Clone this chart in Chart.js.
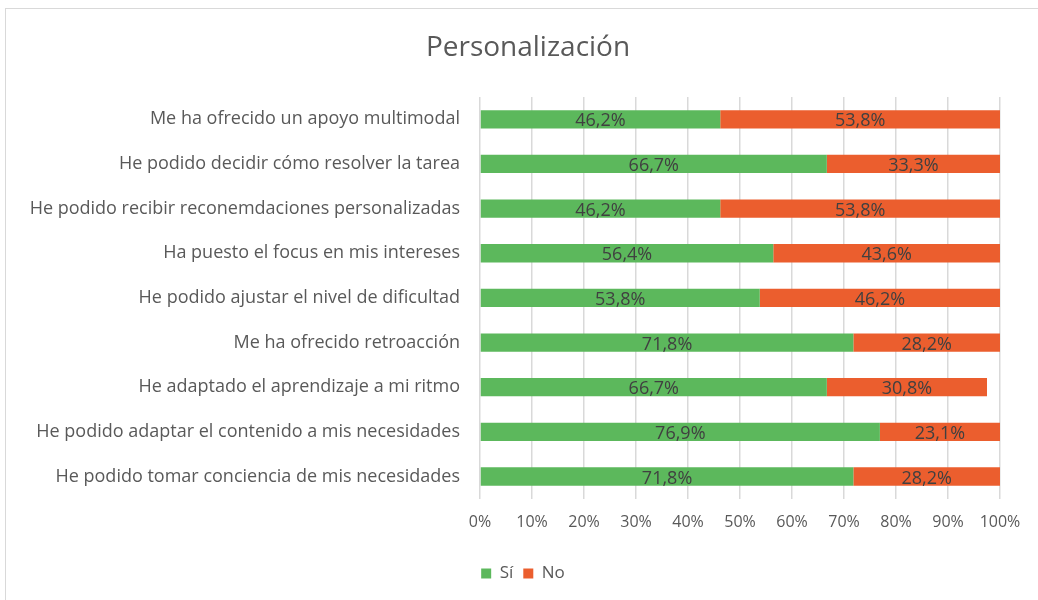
<!DOCTYPE html>
<html lang="es">
<head>
<meta charset="UTF-8">
<title>Personalización</title>
<script src="https://cdn.jsdelivr.net/npm/chart.js"></script>
<style>
  body { margin: 0; background: #fff; }
  .frame { position: absolute; left: 5px; top: 8px; width: 1040px; height: 600px; border: 1px solid #d9d9d9; }
  .wrap { position: absolute; left: 0; top: 0; width: 1038px; height: 600px; }
</style>
</head>
<body>
<div class="frame"></div>
<div class="wrap"><canvas id="chart" width="1038" height="600"></canvas></div>
<script>
const chartTitle = 'Personalización';
const categories = [
  'Me ha ofrecido un apoyo multimodal',
  'He podido decidir cómo resolver la tarea',
  'He podido recibir reconemdaciones personalizadas',
  'Ha puesto el focus en mis intereses',
  'He podido ajustar el nivel de dificultad',
  'Me ha ofrecido retroacción',
  'He adaptado el aprendizaje a mi ritmo',
  'He podido adaptar el contenido a mis necesidades',
  'He podido tomar conciencia de mis necesidades'
];
const siValues = [46.2, 66.7, 46.2, 56.4, 53.8, 71.8, 66.7, 76.9, 71.8];
const noValues = [53.8, 33.3, 53.8, 43.6, 46.2, 28.2, 30.8, 23.1, 28.2];
const xTicks = [0, 10, 20, 30, 40, 50, 60, 70, 80, 90, 100];

const FONT = "'Open Sans', sans-serif";
const fmt = v => v.toFixed(1).replace('.', ',') + '%';

// etiquetas dentro de cada barra + titulo centrado sobre el grafico
const barLabels = {
  id: 'barLabels',
  afterLayout(chart) {
    // la leyenda del original va algo desplazada a la derecha
    chart.legend.left += 23;
    chart.legend.right += 23;
  },
  afterDatasetsDraw(chart) {
    const ctx = chart.ctx;
    ctx.save();
    ctx.font = '18px ' + FONT;
    ctx.fillStyle = '#404040';
    ctx.textAlign = 'center';
    ctx.textBaseline = 'middle';
    chart.data.datasets.forEach((ds, i) => {
      chart.getDatasetMeta(i).data.forEach((bar, j) => {
        const p = bar.getProps(['x', 'y', 'base'], true);
        ctx.fillText(fmt(ds.data[j]), (p.x + p.base) / 2, p.y + 2);
      });
    });
    ctx.font = '28px ' + FONT;
    ctx.fillStyle = '#595959';
    ctx.fillText(chartTitle, 528, 48);
    ctx.restore();
  }
};

new Chart(document.getElementById('chart'), {
  type: 'bar',
  data: {
    labels: categories,
    datasets: [
      { label: 'Sí', data: siValues, backgroundColor: '#5CB85C' },
      { label: 'No', data: noValues, backgroundColor: '#EB5E2E' }
    ]
  },
  options: {
    indexAxis: 'y',
    responsive: false,
    animation: false,
    barPercentage: 0.41,
    categoryPercentage: 1,
    layout: { padding: { left: 0, right: 38, top: 97, bottom: 8 } },
    scales: {
      x: {
        stacked: true,
        min: 0,
        max: 100,
        afterBuildTicks: s => { s.ticks = xTicks.map(v => ({ value: v })); },
        afterFit: s => { s.height += 9; },
        ticks: { callback: v => v + '%', color: '#595959', font: { family: FONT, size: 16 }, padding: 14 },
        grid: { color: '#d9d9d9', lineWidth: 1.5, drawTicks: false },
        border: { display: false }
      },
      y: {
        stacked: true,
        afterFit: s => { s.width = 480; },
        ticks: { color: '#595959', font: { family: FONT, size: 18 }, padding: 20 },
        grid: { display: false, drawTicks: false },
        border: { display: false }
      }
    },
    plugins: {
      title: { display: false },
      legend: {
        position: 'bottom',
        labels: { color: '#595959', font: { family: FONT, size: 17 }, boxWidth: 10, boxHeight: 10, padding: 10 }
      },
      tooltip: { enabled: false }
    }
  },
  plugins: [barLabels]
});
</script>
</body>
</html>
